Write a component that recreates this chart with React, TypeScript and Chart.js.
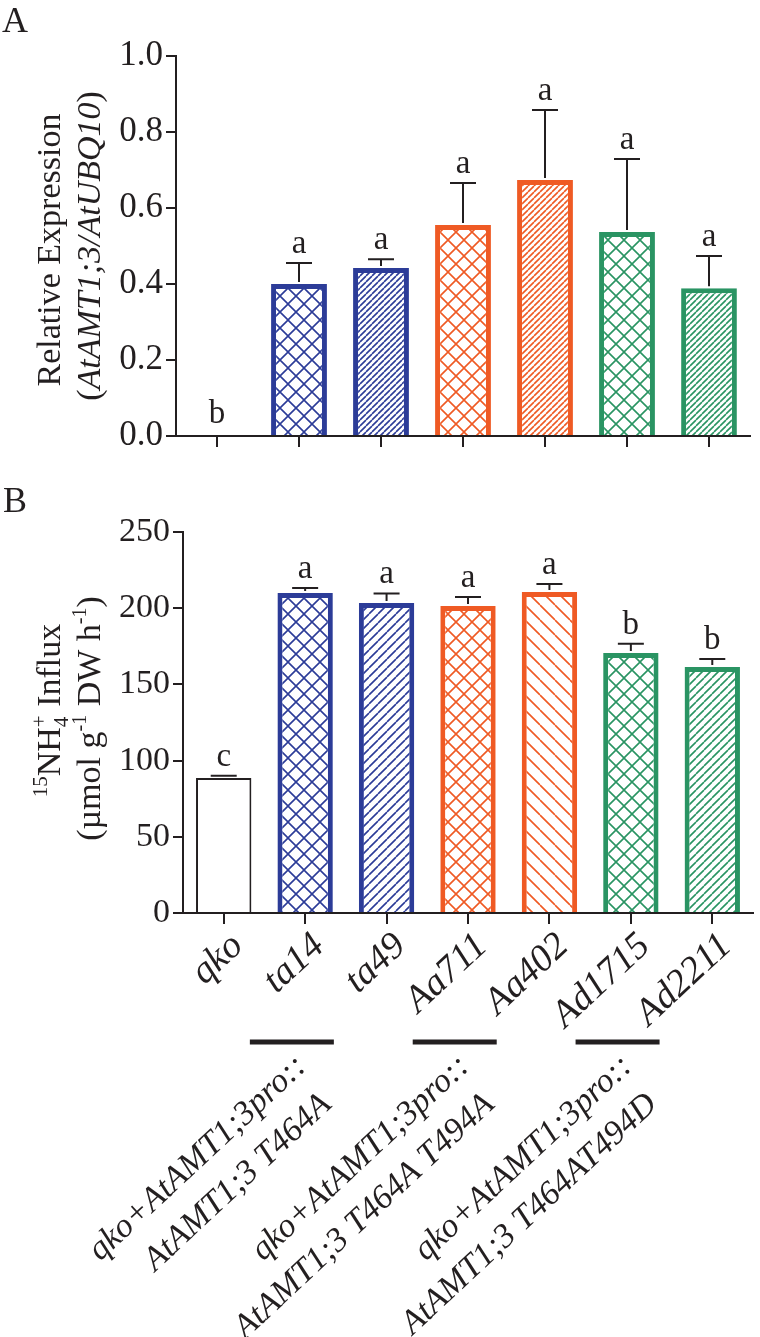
import React, { useEffect, useRef } from 'react';
import { Chart, registerables } from 'chart.js';
Chart.register(...registerables);

// ---------- data ----------
const CATEGORIES = ['qko', 'ta14', 'ta49', 'Aa711', 'Aa402', 'Ad1715', 'Ad2211'];
const EXPR_MEAN = [0, 0.4, 0.442, 0.555, 0.674, 0.537, 0.389];
const EXPR_SD = [0, 0.055, 0.023, 0.111, 0.184, 0.192, 0.085];
const EXPR_LETTERS = ['b', 'a', 'a', 'a', 'a', 'a', 'a'];
const EXPR_TICKS = [0, 0.2, 0.4, 0.6, 0.8, 1.0];

const INFLUX_MEAN = [88.6, 210, 203.4, 201.4, 210.6, 170.6, 161.4];
const INFLUX_SD = [1.4, 3.3, 6.3, 5.9, 5.3, 6.0, 5.3];
const INFLUX_LETTERS = ['c', 'a', 'a', 'a', 'a', 'b', 'b'];
const INFLUX_TICKS = [0, 50, 100, 150, 200, 250];

const GROUP_LINE1 = ['qko+AtAMT1;3pro::', 'qko+AtAMT1;3pro::', 'qko+AtAMT1;3pro::'];
const GROUP_LINE2 = ['AtAMT1;3 T464A', 'AtAMT1;3 T464A T494A', 'AtAMT1;3 T464AT494D'];

// ---------- styles ----------
const INK = '#231f20';
const SERIF = "'Liberation Serif','Times New Roman',serif";
const BLUE = '#2c3c98';
const ORANGE = '#ef5a24';
const GREEN = '#2a9463';
const BAR_COLORS = [INK, BLUE, BLUE, ORANGE, ORANGE, GREEN, GREEN];
const PATTERN_A: [string, number][] = [['none', 0], ['cross', 16], ['fwd', 6], ['cross', 16], ['fwd', 6], ['cross', 16], ['fwd', 6]];
const PATTERN_B: [string, number][] = [['none', 0], ['cross', 16], ['fwd', 9], ['cross', 16], ['back', 15], ['cross', 16], ['fwd', 8]];

function makePattern(kind: string, color: string, p: number): CanvasPattern | string {
  if (kind === 'none') return '#ffffff';
  const c = document.createElement('canvas');
  c.width = p;
  c.height = p;
  const g = c.getContext('2d')!;
  g.fillStyle = '#ffffff';
  g.fillRect(0, 0, p, p);
  g.strokeStyle = color;
  g.lineWidth = 1.6;
  g.beginPath();
  for (let k = -1; k <= 1; k++) {
    if (kind === 'fwd' || kind === 'cross') {
      g.moveTo(k * p, p);
      g.lineTo(k * p + p, 0);
    }
    if (kind === 'back' || kind === 'cross') {
      g.moveTo(k * p, 0);
      g.lineTo(k * p + p, p);
    }
  }
  g.stroke();
  return g.createPattern(c, 'repeat')!;
}

type Seg = { t: string; size: number; dy?: number; italic?: boolean; stack?: boolean };

function drawRich(ctx: CanvasRenderingContext2D, segs: Seg[], cx: number, baseline: number) {
  const widths: number[] = [];
  let total = 0;
  let prevW = 0;
  segs.forEach((s) => {
    ctx.font = `${s.italic ? 'italic ' : ''}${s.size}px ${SERIF}`;
    const w = ctx.measureText(s.t).width;
    widths.push(w);
    if (s.stack) {
      total += Math.max(0, w - prevW);
      prevW = Math.max(prevW, w);
    } else {
      total += w;
      prevW = w;
    }
  });
  let x = cx - total / 2;
  let lastX = x;
  prevW = 0;
  segs.forEach((s, i) => {
    ctx.font = `${s.italic ? 'italic ' : ''}${s.size}px ${SERIF}`;
    const w = widths[i];
    if (s.stack) {
      ctx.fillText(s.t, lastX, baseline + (s.dy || 0));
      x += Math.max(0, w - prevW);
      prevW = Math.max(prevW, w);
    } else {
      ctx.fillText(s.t, x, baseline + (s.dy || 0));
      lastX = x;
      x += w;
      prevW = w;
    }
  });
}

function makeOverlay(means: number[], sds: number[], letters: string[], drawExtra: (chart: any) => void) {
  return {
    id: 'overlay',
    afterDatasetsDraw(chart: any) {
      const ctx = chart.ctx as CanvasRenderingContext2D;
      const xs = chart.scales.x;
      const ys = chart.scales.y;
      ctx.save();
      ctx.strokeStyle = INK;
      ctx.fillStyle = INK;
      ctx.lineWidth = 2;
      means.forEach((m, i) => {
        const x = xs.getPixelForValue(i);
        const y0 = ys.getPixelForValue(m);
        const y1 = ys.getPixelForValue(m + sds[i]);
        if (sds[i] > 0) {
          ctx.beginPath();
          ctx.moveTo(x, y0 - 2);
          ctx.lineTo(x, y1);
          ctx.moveTo(x - 13, y1);
          ctx.lineTo(x + 13, y1);
          ctx.stroke();
        }
        ctx.font = `33px ${SERIF}`;
        ctx.textAlign = 'center';
        ctx.textBaseline = 'alphabetic';
        ctx.fillText(letters[i], x, y1 - (sds[i] > 0 ? 10 : 13));
      });
      ctx.restore();
    },
    afterDraw(chart: any) {
      const ctx = chart.ctx as CanvasRenderingContext2D;
      ctx.save();
      ctx.fillStyle = INK;
      drawExtra(chart);
      ctx.restore();
    },
  };
}

function axisCommon(width: number, tickLen: number) {
  return {
    grid: { offset: false, drawOnChartArea: false, drawTicks: true, tickLength: tickLen, color: INK, lineWidth: width },
    border: { display: true, color: INK, width: width },
  };
}

export default function App() {
  const refA = useRef<HTMLCanvasElement>(null);
  const refB = useRef<HTMLCanvasElement>(null);

  useEffect(() => {
    const fillsA = PATTERN_A.map(([k, p], i) => makePattern(k, BAR_COLORS[i], p));
    const fillsB = PATTERN_B.map(([k, p], i) => makePattern(k, BAR_COLORS[i], p));

    const chartA = new Chart(refA.current!, {
      type: 'bar',
      data: {
        labels: CATEGORIES,
        datasets: [
          {
            data: EXPR_MEAN,
            backgroundColor: fillsA as any,
            borderColor: BAR_COLORS,
            borderWidth: 5,
            barPercentage: 0.68,
            categoryPercentage: 1,
          },
        ],
      },
      options: {
        animation: false,
        responsive: false,
        maintainAspectRatio: false,
        layout: { padding: { top: 56, right: 10, left: 0, bottom: 0 } },
        plugins: { legend: { display: false }, tooltip: { enabled: false } },
        scales: {
          x: {
            ...axisCommon(2, 11),
            ticks: { display: false },
            afterFit: (s: any) => {
              s.height = 34;
            },
          } as any,
          y: {
            ...axisCommon(2, 10),
            min: 0,
            max: 1,
            afterBuildTicks: (s: any) => {
              s.ticks = EXPR_TICKS.map((v) => ({ value: v }));
            },
            ticks: {
              font: { family: SERIF, size: 35 },
              color: INK,
              padding: 3,
              callback: (v: any) => Number(v).toFixed(1),
            },
            afterFit: (s: any) => {
              s.width = 176;
            },
          } as any,
        },
      },
      plugins: [
        makeOverlay(EXPR_MEAN, EXPR_SD, EXPR_LETTERS, (chart) => {
          const ctx = chart.ctx as CanvasRenderingContext2D;
          const ca = chart.chartArea;
          ctx.textAlign = 'left';
          ctx.textBaseline = 'alphabetic';
          ctx.font = `36px ${SERIF}`;
          ctx.fillText('A', 2, 32);
          const cy = (ca.top + ca.bottom) / 2;
          ctx.save();
          ctx.translate(60, cy + 4);
          ctx.rotate(-Math.PI / 2);
          drawRich(ctx, [{ t: 'Relative Expression', size: 34 }], 0, 0);
          ctx.restore();
          ctx.save();
          ctx.translate(100, cy);
          ctx.rotate(-Math.PI / 2);
          drawRich(
            ctx,
            [
              { t: '(', size: 34 },
              { t: 'AtAMT1;3/AtUBQ10', size: 34, italic: true },
              { t: ')', size: 34 },
            ],
            0,
            0
          );
          ctx.restore();
        }),
      ],
    });

    const chartB = new Chart(refB.current!, {
      type: 'bar',
      data: {
        labels: CATEGORIES,
        datasets: [
          {
            data: INFLUX_MEAN,
            backgroundColor: fillsB as any,
            borderColor: BAR_COLORS,
            borderWidth: [2, 5, 5, 5, 5, 5, 5],
            barPercentage: 0.68,
            categoryPercentage: 1,
          },
        ],
      },
      options: {
        animation: false,
        responsive: false,
        maintainAspectRatio: false,
        layout: { padding: { top: 62, right: 7, left: 0, bottom: 0 } },
        plugins: { legend: { display: false }, tooltip: { enabled: false } },
        scales: {
          x: {
            ...axisCommon(2, 11),
            ticks: {
              font: { family: SERIF, size: 38, style: 'italic' },
              color: INK,
              padding: 0,
              labelOffset: 14,
              minRotation: 43,
              maxRotation: 43,
              autoSkip: false,
            },
            afterFit: (s: any) => {
              s.height = 424;
            },
          } as any,
          y: {
            ...axisCommon(2, 10),
            min: 0,
            max: 250,
            afterBuildTicks: (s: any) => {
              s.ticks = INFLUX_TICKS.map((v) => ({ value: v }));
            },
            ticks: {
              font: { family: SERIF, size: 34 },
              color: INK,
              padding: 3,
            },
            afterFit: (s: any) => {
              s.width = 183;
            },
          } as any,
        },
      },
      plugins: [
        makeOverlay(INFLUX_MEAN, INFLUX_SD, INFLUX_LETTERS, (chart) => {
          const ctx = chart.ctx as CanvasRenderingContext2D;
          const ca = chart.chartArea;
          const xs = chart.scales.x;
          ctx.textAlign = 'left';
          ctx.textBaseline = 'alphabetic';
          ctx.font = `36px ${SERIF}`;
          ctx.fillText('B', 3, 42);
          const cy = (ca.top + ca.bottom) / 2;
          ctx.save();
          ctx.translate(60, cy - 12);
          ctx.rotate(-Math.PI / 2);
          drawRich(
            ctx,
            [
              { t: '15', size: 21, dy: -13 },
              { t: 'NH', size: 34 },
              { t: '4', size: 21, dy: 8 },
              { t: '+', size: 21, dy: -14, stack: true },
              { t: ' Influx', size: 34 },
            ],
            0,
            0
          );
          ctx.restore();
          ctx.save();
          ctx.translate(100, cy - 4);
          ctx.rotate(-Math.PI / 2);
          drawRich(
            ctx,
            [
              { t: '(\u00b5mol g', size: 34 },
              { t: '-1', size: 20, dy: -14 },
              { t: ' DW h', size: 34 },
              { t: '-1', size: 20, dy: -14 },
              { t: ')', size: 34 },
            ],
            0,
            0
          );
          ctx.restore();

          // group annotations
          const barY = 1042 - 470;
          for (let g = 0; g < 3; g++) {
            const cx = (xs.getPixelForValue(1 + 2 * g) + xs.getPixelForValue(2 + 2 * g)) / 2 - 54;
            ctx.fillRect(cx - 42, barY - 2.5, 84, 5);
            ctx.save();
            ctx.translate(cx, barY);
            ctx.rotate((-43 * Math.PI) / 180);
            ctx.textAlign = 'right';
            ctx.textBaseline = 'middle';
            ctx.font = `italic 34px ${SERIF}`;
            ctx.fillText(GROUP_LINE1[g], -6, 21);
            ctx.fillText(GROUP_LINE2[g], -14, 66);
            ctx.restore();
          }
        }),
      ],
    });

    return () => {
      chartA.destroy();
      chartB.destroy();
    };
  }, []);

  return (
    <div style={{ position: 'absolute', left: 0, top: 0, width: 760, height: 1337, background: '#fff', overflow: 'hidden' }}>
      <canvas ref={refA} width={760} height={470} style={{ position: 'absolute', left: 0, top: 0, display: 'block' }} />
      <canvas ref={refB} width={760} height={867} style={{ position: 'absolute', left: 0, top: 470, display: 'block' }} />
    </div>
  );
}
